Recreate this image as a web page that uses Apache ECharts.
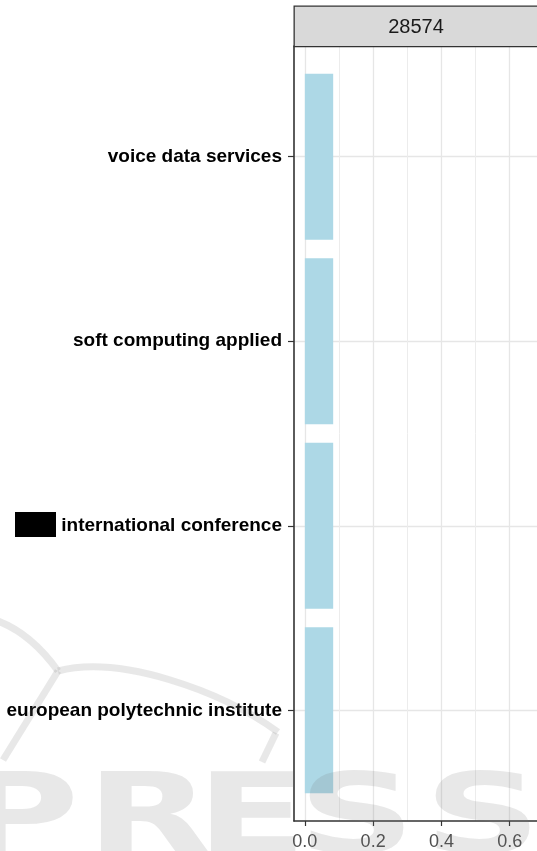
<!DOCTYPE html>
<html>
<head>
<meta charset="utf-8">
<script src="https://cdn.jsdelivr.net/npm/echarts@6/dist/echarts.min.js"></script>
<style>
  html, body { margin: 0; padding: 0; background: #ffffff; }
  #chart { width: 537px; height: 851px; }
</style>
</head>
<body>
<div id="chart"></div>
<script>
// Facet heading and data
const facetLabel = '28574';
const categories = [
  'voice data services',
  'soft computing applied',
  'international conference',
  'european polytechnic institute'
];
const shares = [0.083, 0.083, 0.083, 0.083];

// Axis breaks
const xMajorTicks = [0, 0.2, 0.4, 0.6];
const xMinorTicks = [0.1, 0.3, 0.5];
const categoryPositions = [1, 2, 3, 4];

const FONT = '"Liberation Sans", Arial, sans-serif';
const chart = echarts.init(document.getElementById('chart'), null, { renderer: 'canvas' });

const panel = { left: 294, top: 46, width: 246, height: 775 };
const xMin = -0.0318, xMax = 0.680;

const barRows = shares.map((v, i) => [v, categoryPositions[i]]);

// Faint publisher watermark lettering across the bottom
const wmFill = 'rgba(120,120,120,0.17)';
const wmLetters = [
  { ch: 'P', x: -40 },
  { ch: 'R', x: 86 },
  { ch: 'E', x: 196 },
  { ch: 'S', x: 298 },
  { ch: 'S', x: 424 }
];
const watermark = wmLetters.map(l => ({
  type: 'text',
  x: l.x, y: 878,
  scaleX: 1.48,
  z: 100,
  silent: true,
  style: {
    text: l.ch,
    font: 'bold 110px "DejaVu Sans", sans-serif',
    fill: wmFill,
    textVerticalAlign: 'bottom'
  }
}));
const wmStroke = { stroke: wmFill, lineWidth: 7, fill: null };
const watermarkArcs = [
  { type: 'bezierCurve', z: 100, silent: true,
    shape: { x1: -5, y1: 620, x2: 58, y2: 671, cpx1: 30, cpy1: 632 }, style: wmStroke },
  { type: 'line', z: 100, silent: true,
    shape: { x1: 58, y1: 671, x2: 3, y2: 760 }, style: wmStroke },
  { type: 'bezierCurve', z: 100, silent: true,
    shape: { x1: 58, y1: 671, x2: 278, y2: 732, cpx1: 120, cpy1: 655, cpx2: 220, cpy2: 690 }, style: wmStroke },
  { type: 'line', z: 100, silent: true,
    shape: { x1: 276, y1: 733, x2: 262, y2: 762 }, style: wmStroke }
];

const option = {
  animation: false,
  backgroundColor: '#ffffff',
  grid: { left: panel.left, top: panel.top, width: panel.width, height: panel.height, containLabel: false },
  xAxis: [
    {
      type: 'value',
      min: xMin,
      max: xMax,
      position: 'bottom',
      axisLine: { show: true, onZero: false, lineStyle: { color: '#333333', width: 1.6 } },
      axisTick: { show: true, customValues: xMajorTicks, length: 5, lineStyle: { color: '#333333', width: 1.2 } },
      axisLabel: {
        customValues: xMajorTicks,
        formatter: v => v.toFixed(1),
        color: '#4D4D4D',
        fontFamily: FONT,
        fontSize: 18,
        margin: 12
      },
      splitLine: { show: true, lineStyle: { color: '#E6E6E6', width: 1.3 } }
    },
    {
      type: 'value',
      min: xMin,
      max: xMax,
      position: 'top',
      axisLine: { show: false },
      axisTick: { show: false, customValues: xMinorTicks },
      axisLabel: { show: false, customValues: xMinorTicks },
      splitLine: { show: true, lineStyle: { color: '#ECECEC', width: 1 } }
    }
  ],
  yAxis: {
    type: 'value',
    inverse: true,
    min: 0.4,
    max: 4.6,
    axisLine: { show: true, onZero: false, lineStyle: { color: '#333333', width: 1.6 } },
    axisTick: { show: true, customValues: categoryPositions, length: 6, lineStyle: { color: '#333333', width: 1.2 } },
    axisLabel: {
      customValues: categoryPositions,
      formatter: v => categories[Math.round(v) - 1],
      color: '#000000',
      fontFamily: FONT,
      fontWeight: 'bold',
      fontSize: 19,
      margin: 12
    },
    splitLine: { show: true, lineStyle: { color: '#E6E6E6', width: 1.3 } }
  },
  series: [
    {
      type: 'custom',
      xAxisIndex: 0,
      yAxisIndex: 0,
      z: 3,
      encode: { x: 0, y: 1 },
      data: barRows,
      renderItem(params, api) {
        const v = api.value(0);
        const c = api.value(1);
        const start = api.coord([0, c]);
        const end = api.coord([v, c]);
        const h = api.size([0, 0.9])[1];
        return {
          type: 'rect',
          shape: { x: start[0], y: start[1] - h / 2, width: end[0] - start[0], height: h },
          style: { fill: '#ADD8E6' }
        };
      }
    }
  ],
  graphic: [
    // facet strip
    {
      type: 'rect',
      left: panel.left - 0.5,
      top: 5.5,
      z: 10,
      shape: { width: 270, height: panel.top - 5.5 },
      style: { fill: '#D9D9D9', stroke: '#333333', lineWidth: 1.3 }
    },
    {
      type: 'text',
      x: panel.left + panel.width / 2 - 1,
      y: 27,
      z: 11,
      style: {
        text: facetLabel,
        font: '20px ' + FONT,
        fill: '#1A1A1A',
        textAlign: 'center',
        textVerticalAlign: 'middle'
      }
    },
    // redaction box in front of the third label
    {
      type: 'rect',
      x: 15, y: 512, z: 20,
      shape: { width: 41, height: 25 },
      style: { fill: '#000000' }
    }
  ].concat(watermarkArcs, watermark)
};

chart.setOption(option);
</script>
</body>
</html>
